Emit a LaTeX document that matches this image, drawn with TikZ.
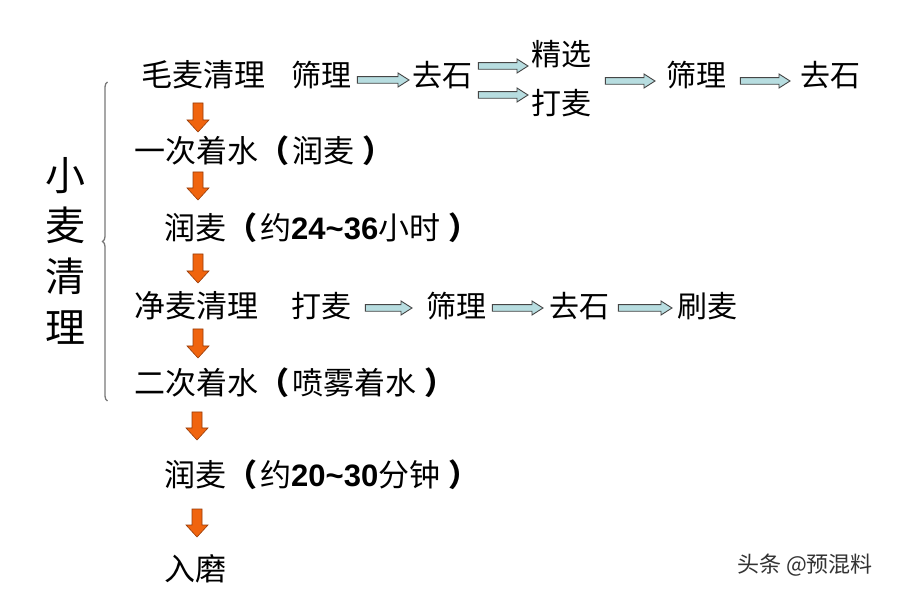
\documentclass[tikz,border=0pt]{standalone}
\usepackage{fontspec}
\newfontfamily\cjk{Noto Sans CJK SC}
\newfontfamily\numf{Liberation Sans}
\usetikzlibrary{calc,decorations.pathreplacing}
\definecolor{tealfill}{RGB}{183,221,224}
\definecolor{tealline}{RGB}{70,70,70}
\definecolor{orfill}{RGB}{240,100,14}
\definecolor{orline}{RGB}{150,60,10}
\definecolor{bracegray}{RGB}{120,120,120}
\newcommand\tarrow[5]{%
  \draw[tealar] let \p1=(#1.east), \p2=(#2.west), \p3=(0,#3) in
    (\x1+#4pt,\y3+3.3pt) -- (\x2-#5pt-11pt,\y3+3.3pt) -- (\x2-#5pt-11pt,\y3+7pt)
    -- (\x2-#5pt,\y3) -- (\x2-#5pt-11pt,\y3-7pt) -- (\x2-#5pt-11pt,\y3-3.3pt)
    -- (\x1+#4pt,\y3-3.3pt) -- cycle;}
\newcommand\oarrow[2]{%
  \draw[orar] let \p1=(#1), \p2=(#2) in
    (\x1-5pt,\y1) -- (\x1+5pt,\y1) -- (\x1+5pt,\y2+12pt) -- (\x1+11pt,\y2+12pt)
    -- (\x1,\y2) -- (\x1-11pt,\y2+12pt) -- (\x1-5pt,\y2+12pt) -- cycle;}
\newcommand\lp{{\bfseries （}\hspace{3pt}}
\newcommand\rp{\hspace{8pt}{\bfseries ）}}
\begin{document}
\begin{tikzpicture}[x=1pt,y=-1pt,
  main/.style={font=\cjk\fontsize{31}{31}\selectfont, anchor=base west, inner sep=0pt},
  sub/.style={font=\cjk\fontsize{30}{30}\selectfont, anchor=base west, inner sep=0pt},
  tealar/.style={fill=tealfill, draw=tealline, line width=0.9pt, line join=miter},
  orar/.style={fill=orfill, draw=orline, line width=0.6pt, line join=miter},
  bracestyle/.style={draw=bracegray, line width=1.3pt, decorate, decoration={brace, amplitude=5pt}}]
\fill[white] (0,0) rectangle (897,593);
\useasboundingbox (0,0) rectangle (897,593);

% vertical label
\node[font=\cjk\fontsize{40}{50.7}\selectfont, align=center, inner sep=0pt] (title) at (65,250.5) {小\\麦\\清\\理};
\draw[bracestyle] (107.5,401) -- (107.5,82);

% row 1
\node[main] (r1) at (141,87) {毛麦清理};
\node[sub] (r1a) at (291,87) {筛理};
\node[sub] (r1b) at (412,87) {去石};
\node[sub] (r1c) at (531,65.5) {精选};
\node[sub] (r1d) at (531,115) {打麦};
\node[sub] (r1e) at (666,87) {筛理};
\node[sub] (r1f) at (800,87) {去石};
\tarrow{r1a}{r1b}{80}{6}{3}
\tarrow{r1b}{r1c}{66}{6}{3}
\tarrow{r1b}{r1d}{95}{6}{3}
\tarrow{r1c}{r1e}{81}{14}{11}
\tarrow{r1e}{r1f}{81}{14}{10}

% rows 2,3
\node[main] (r2) at (134,163) {一次着水\lp 润麦\rp};
\node[main] (r3) at (164,240) {润麦\lp 约{\numf\bfseries 24\char"7E 36}小时\rp};

% row 4
\node[main] (r4) at (134,318) {净麦清理};
\node[sub] (r4a) at (291,318) {打麦};
\node[sub] (r4b) at (426,318) {筛理};
\node[sub] (r4c) at (549,318) {去石};
\node[sub] (r4d) at (677,318) {刷麦};
\tarrow{r4a}{r4b}{308}{14}{14}
\tarrow{r4b}{r4c}{308}{6}{6}
\tarrow{r4c}{r4d}{308}{9}{5}

% rows 5-7
\node[main] (r5) at (134,395) {二次着水\lp 喷雾着水\rp};
\node[main] (r6) at (164,486) {润麦\lp 约{\numf\bfseries 20\char"7E 30}分钟\rp};
\node[main] (r7) at (164,580) {入磨};

% orange arrows
\coordinate (o1s) at (198,103); \coordinate (o1e) at (198,132);
\coordinate (o2s) at (198,172); \coordinate (o2e) at (198,200);
\coordinate (o3s) at (198,254); \coordinate (o3e) at (198,283);
\coordinate (o4s) at (198,329); \coordinate (o4e) at (198,358);
\coordinate (o5s) at (197,412); \coordinate (o5e) at (197,440);
\coordinate (o6s) at (197,509); \coordinate (o6e) at (197,537);
\oarrow{o1s}{o1e}
\oarrow{o2s}{o2e}
\oarrow{o3s}{o3e}
\oarrow{o4s}{o4e}
\oarrow{o5s}{o5e}
\oarrow{o6s}{o6e}

% watermark
\node[font=\cjk\fontsize{22}{22}\selectfont, anchor=base west, inner sep=0pt, text=black!80] (wm) at (737,572) {头条 @预混料};
\end{tikzpicture}
\end{document}
